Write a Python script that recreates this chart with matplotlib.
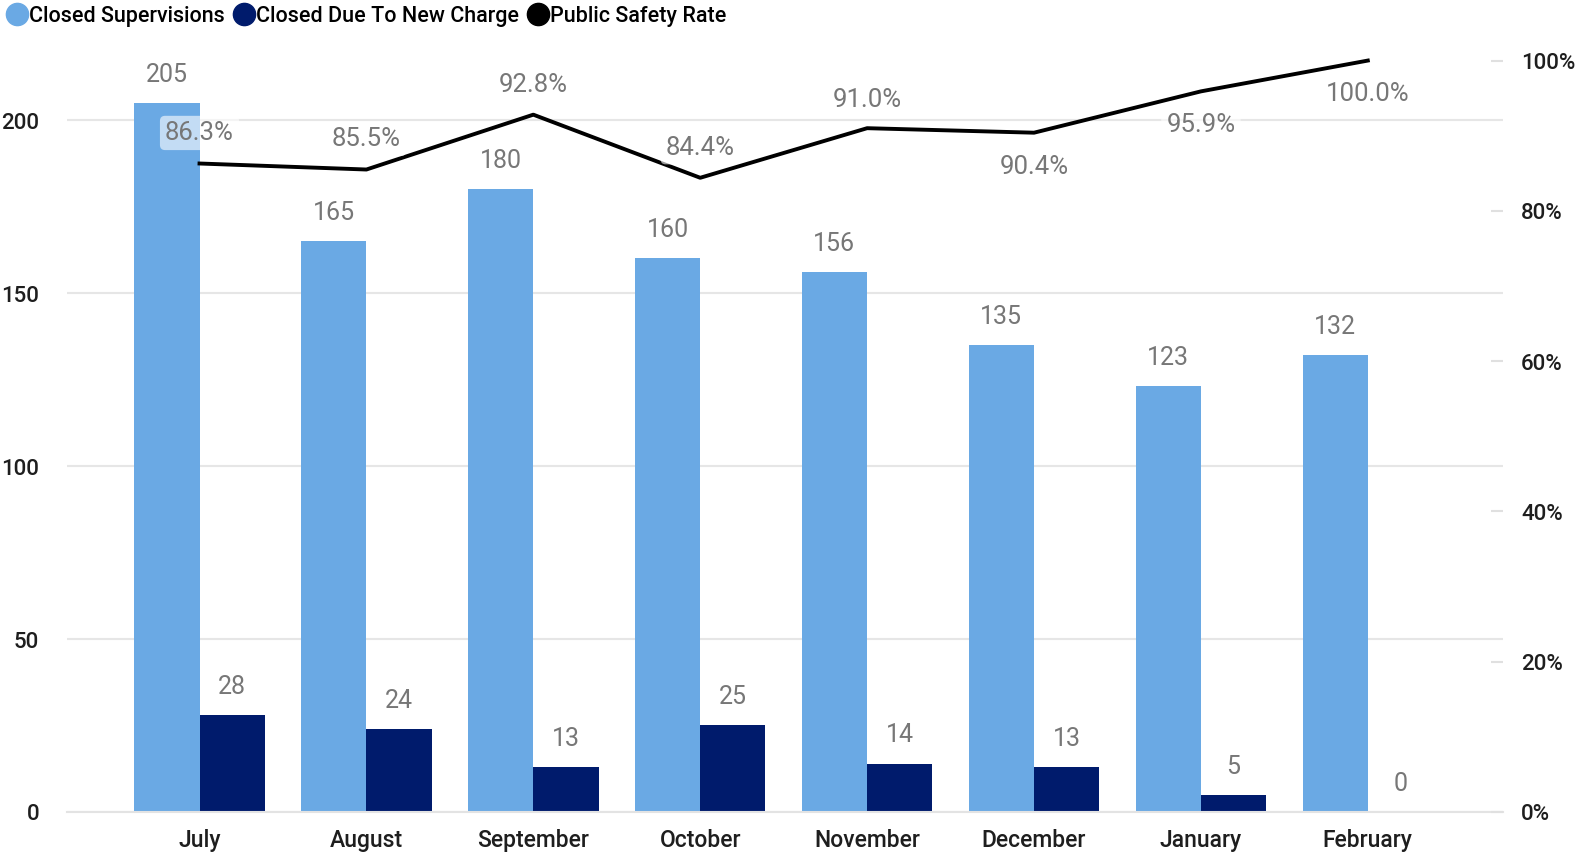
import matplotlib
matplotlib.use("Agg")
import matplotlib.pyplot as plt
from matplotlib.lines import Line2D
import numpy as np

months = ["July", "August", "September", "October", "November", "December", "January", "February"]
closed_supervisions = [205, 165, 180, 160, 156, 135, 123, 132]
closed_new_charge = [28, 24, 13, 25, 14, 13, 5, 0]
public_safety_rate = [86.3, 85.5, 92.8, 84.4, 91.0, 90.4, 95.9, 100.0]
left_ticks = [0, 50, 100, 150, 200]
right_ticks = [0, 20, 40, 60, 80, 100]

LIGHT = "#6AA9E4"
DARK = "#001B6C"
GRAY = "#777777"
TXT = "#1E1E1E"

plt.rcParams['font.family'] = ['Roboto', 'DejaVu Sans']

fig = plt.figure(figsize=(15.79, 8.545), dpi=100)
ax = fig.add_axes([67/1579, 42/854, (1503-67)/1579, (812-40)/854])
ax2 = ax.twinx()

x = np.arange(len(months))
w = 0.391
ax.bar(x - w/2, closed_supervisions, w, color=LIGHT, zorder=2)
ax.bar(x + w/2, closed_new_charge, w, color=DARK, zorder=2)

ax.set_xlim(-0.794, 7.81)
ax.set_ylim(0, 223.3)
ax2.set_ylim(0, 102.8)

for xi, v in zip(x, closed_supervisions):
    ax.annotate(f"{v}", (xi - w/2, v), xytext=(0, 12), textcoords="offset points",
                ha="center", va="bottom", color=GRAY, fontsize=18)
for xi, v in zip(x, closed_new_charge):
    ax.annotate(f"{v}", (xi + w/2, v), xytext=(0, 12), textcoords="offset points",
                ha="center", va="bottom", color=GRAY, fontsize=18)

ax.set_yticks(left_ticks)
ax.set_yticklabels([str(t) for t in left_ticks], fontsize=16, color=TXT, fontweight=500)
ax.tick_params(axis='y', length=0, pad=20)
ax.grid(axis='y', color="#E6E6E6", linewidth=1.5, zorder=0)
ax.set_axisbelow(True)
ax.set_xticks(x)
ax.set_xticklabels(months, fontsize=16.5, color=TXT, fontweight=500)
ax.tick_params(axis='x', length=0, pad=12)
for s in ["top", "right", "left"]:
    ax.spines[s].set_visible(False)
ax.spines["bottom"].set_color("#E3E3E3")
ax.spines["bottom"].set_linewidth(1.5)

ax2.plot(x, public_safety_rate, color="black", linewidth=2.8, zorder=3)
ax2.set_yticks(right_ticks)
ax2.set_yticklabels([f"{t}%" for t in right_ticks], fontsize=16, color=TXT, fontweight=500)
ax2.tick_params(axis='y', direction='in', length=9, color="#E0E0E0", pad=13, width=1.5)
for s in ["top", "right", "left", "bottom"]:
    ax2.spines[s].set_visible(False)

offsets = [22, 22, 22, 22, 21, -24, -24, -24]
for xi, v, off in zip(x, public_safety_rate, offsets):
    ax2.annotate(f"{v:.1f}%", (xi, v), xytext=(0, off), textcoords="offset points",
                 ha="center", va="center", color=GRAY, fontsize=18.5, zorder=5,
                 bbox=dict(boxstyle="round,pad=0.2", fc="white", ec="none", alpha=0.6))

handles = [Line2D([], [], marker='o', linestyle='none', markersize=16, color=c)
           for c in (LIGHT, DARK, "black")]
fig.legend(handles, ["Closed Supervisions", "Closed Due To New Charge", "Public Safety Rate"],
           loc="upper left", bbox_to_anchor=(-0.003, 1.003), ncol=3, frameon=False,
           handletextpad=-0.05, columnspacing=0.3, handlelength=1.2,
           borderaxespad=0.2, borderpad=0.2, labelcolor="black",
           prop={'weight': 500, 'size': 15.5})

fig.savefig("out.png", dpi=100)
